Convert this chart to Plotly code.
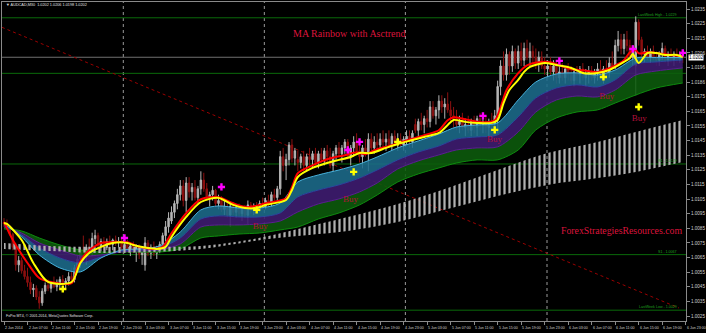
import plotly.graph_objects as go

# ---------------- data (prices, AUDCAD M30) ----------------
bar_idx = list(range(232))

open_ = [1.0089,1.0088,1.0086,1.0081,1.0072,1.0060,1.0063,1.0056,1.0052,1.0048,
 1.0043,1.0044,1.0038,1.0034,1.0042,1.0046,1.0044,1.0047,1.0045,1.0048,
 1.0050,1.0047,1.0049,1.0052,1.0050,1.0058,1.0064,1.0070,1.0066,1.0072,
 1.0068,1.0078,1.0080,1.0073,1.0076,1.0072,1.0076,1.0074,1.0077,1.0075,
 1.0076,1.0072,1.0074,1.0071,1.0073,1.0070,1.0072,1.0067,1.0060,1.0075,
 1.0068,1.0072,1.0068,1.0071,1.0074,1.0080,1.0086,1.0090,1.0096,1.0102,
 1.0108,1.0114,1.0104,1.0116,1.0110,1.0113,1.0106,1.0112,1.0118,1.0112,
 1.0106,1.0108,1.0111,1.0102,1.0104,1.0098,1.0100,1.0094,1.0100,1.0096,
 1.0099,1.0095,1.0098,1.0094,1.0101,1.0097,1.0100,1.0098,1.0102,1.0100,
 1.0104,1.0102,1.0108,1.0106,1.0112,1.0134,1.0128,1.0132,1.0142,1.0133,
 1.0132,1.0130,1.0134,1.0128,1.0134,1.0132,1.0136,1.0130,1.0136,1.0132,
 1.0138,1.0134,1.0128,1.0136,1.0140,1.0136,1.0140,1.0144,1.0134,1.0140,
 1.0144,1.0138,1.0134,1.0140,1.0136,1.0146,1.0140,1.0144,1.0142,1.0146,
 1.0144,1.0146,1.0142,1.0148,1.0144,1.0146,1.0142,1.0146,1.0148,1.0144,
 1.0156,1.0152,1.0158,1.0156,1.0160,1.0158,1.0168,1.0162,1.0166,1.0172,
 1.0168,1.0170,1.0166,1.0162,1.0160,1.0156,1.0158,1.0154,1.0156,1.0152,
 1.0158,1.0154,1.0160,1.0156,1.0158,1.0154,1.0158,1.0156,1.0162,1.0182,
 1.0196,1.0190,1.0204,1.0196,1.0206,1.0198,1.0206,1.0200,1.0208,1.0202,
 1.0206,1.0202,1.0198,1.0202,1.0196,1.0194,1.0196,1.0192,1.0196,1.0188,
 1.0192,1.0188,1.0194,1.0190,1.0186,1.0192,1.0190,1.0194,1.0188,1.0190,
 1.0192,1.0188,1.0192,1.0194,1.0190,1.0194,1.0192,1.0198,1.0196,1.0210,
 1.0214,1.0208,1.0214,1.0210,1.0202,1.0196,1.0226,1.0214,1.0204,1.0206,
 1.0202,1.0206,1.0202,1.0200,1.0204,1.0208,1.0200,1.0204,1.0200,1.0204,
 1.0200,1.0202]
high_ = [1.0092,1.0091,1.0087,1.0082,1.0075,1.0066,1.0065,1.0060,1.0058,1.0052,
 1.0047,1.0046,1.0042,1.0044,1.0048,1.0050,1.0049,1.0052,1.0050,1.0052,
 1.0053,1.0051,1.0055,1.0058,1.0060,1.0066,1.0072,1.0080,1.0074,1.0078,
 1.0082,1.0084,1.0082,1.0078,1.0079,1.0078,1.0080,1.0078,1.0080,1.0079,
 1.0078,1.0076,1.0077,1.0075,1.0076,1.0074,1.0074,1.0072,1.0079,1.0077,
 1.0074,1.0076,1.0073,1.0076,1.0082,1.0090,1.0096,1.0100,1.0104,1.0112,
 1.0118,1.0118,1.0120,1.0120,1.0116,1.0118,1.0114,1.0124,1.0123,1.0116,
 1.0110,1.0114,1.0112,1.0108,1.0107,1.0104,1.0104,1.0102,1.0103,1.0101,
 1.0102,1.0100,1.0101,1.0104,1.0103,1.0102,1.0103,1.0104,1.0106,1.0106,
 1.0108,1.0110,1.0112,1.0114,1.0138,1.0140,1.0136,1.0144,1.0146,1.0140,
 1.0138,1.0136,1.0138,1.0136,1.0140,1.0138,1.0140,1.0138,1.0140,1.0140,
 1.0142,1.0140,1.0138,1.0142,1.0144,1.0142,1.0146,1.0146,1.0142,1.0148,
 1.0150,1.0144,1.0142,1.0146,1.0150,1.0150,1.0148,1.0150,1.0150,1.0152,
 1.0150,1.0152,1.0150,1.0152,1.0150,1.0150,1.0148,1.0152,1.0152,1.0152,
 1.0160,1.0160,1.0164,1.0162,1.0166,1.0172,1.0172,1.0168,1.0176,1.0176,
 1.0174,1.0178,1.0172,1.0168,1.0166,1.0162,1.0164,1.0160,1.0162,1.0160,
 1.0162,1.0162,1.0164,1.0162,1.0162,1.0160,1.0164,1.0166,1.0186,1.0200,
 1.0206,1.0208,1.0206,1.0210,1.0208,1.0210,1.0212,1.0212,1.0214,1.0212,
 1.0210,1.0208,1.0206,1.0206,1.0202,1.0200,1.0202,1.0200,1.0200,1.0196,
 1.0198,1.0196,1.0198,1.0196,1.0194,1.0196,1.0196,1.0198,1.0194,1.0196,
 1.0196,1.0194,1.0198,1.0200,1.0196,1.0200,1.0202,1.0206,1.0214,1.0220,
 1.0218,1.0218,1.0220,1.0214,1.0210,1.0230,1.0228,1.0216,1.0208,1.0210,
 1.0208,1.0210,1.0206,1.0206,1.0212,1.0210,1.0206,1.0208,1.0206,1.0208,
 1.0206,1.0206]
low_ = [1.0086,1.0085,1.0080,1.0070,1.0056,1.0055,1.0054,1.0050,1.0045,1.0040,
 1.0038,1.0036,1.0030,1.0032,1.0040,1.0042,1.0041,1.0044,1.0042,1.0044,
 1.0046,1.0044,1.0046,1.0048,1.0048,1.0056,1.0058,1.0064,1.0060,1.0066,
 1.0066,1.0074,1.0070,1.0069,1.0070,1.0070,1.0072,1.0070,1.0073,1.0072,
 1.0070,1.0068,1.0069,1.0066,1.0068,1.0062,1.0064,1.0060,1.0056,1.0066,
 1.0064,1.0066,1.0064,1.0068,1.0070,1.0076,1.0082,1.0088,1.0092,1.0098,
 1.0104,1.0100,1.0096,1.0106,1.0104,1.0104,1.0102,1.0108,1.0110,1.0104,
 1.0100,1.0104,1.0100,1.0098,1.0096,1.0094,1.0092,1.0086,1.0094,1.0092,
 1.0093,1.0090,1.0092,1.0088,1.0095,1.0094,1.0096,1.0096,1.0098,1.0098,
 1.0100,1.0100,1.0104,1.0104,1.0108,1.0124,1.0118,1.0128,1.0130,1.0128,
 1.0124,1.0126,1.0124,1.0124,1.0128,1.0126,1.0128,1.0126,1.0130,1.0128,
 1.0130,1.0126,1.0124,1.0132,1.0134,1.0130,1.0136,1.0132,1.0128,1.0134,
 1.0136,1.0130,1.0126,1.0134,1.0124,1.0138,1.0136,1.0138,1.0138,1.0140,
 1.0138,1.0140,1.0138,1.0142,1.0138,1.0140,1.0138,1.0142,1.0140,1.0140,
 1.0150,1.0148,1.0152,1.0150,1.0154,1.0154,1.0160,1.0156,1.0160,1.0164,
 1.0160,1.0164,1.0158,1.0154,1.0152,1.0150,1.0152,1.0148,1.0150,1.0148,
 1.0150,1.0148,1.0152,1.0150,1.0150,1.0148,1.0152,1.0152,1.0150,1.0176,
 1.0186,1.0186,1.0190,1.0192,1.0194,1.0194,1.0196,1.0196,1.0200,1.0196,
 1.0198,1.0194,1.0192,1.0194,1.0190,1.0188,1.0190,1.0186,1.0184,1.0184,
 1.0186,1.0184,1.0186,1.0184,1.0182,1.0186,1.0184,1.0186,1.0182,1.0184,
 1.0186,1.0184,1.0186,1.0188,1.0184,1.0188,1.0188,1.0194,1.0194,1.0206,
 1.0204,1.0204,1.0206,1.0198,1.0196,1.0176,1.0210,1.0200,1.0198,1.0200,
 1.0198,1.0200,1.0196,1.0196,1.0200,1.0198,1.0196,1.0198,1.0196,1.0198,
 1.0198,1.0198]
close_ = [1.0088,1.0086,1.0081,1.0072,1.0060,1.0063,1.0056,1.0052,1.0048,1.0043,
 1.0044,1.0038,1.0034,1.0042,1.0046,1.0044,1.0047,1.0045,1.0048,1.0050,
 1.0047,1.0049,1.0052,1.0050,1.0058,1.0064,1.0070,1.0066,1.0072,1.0068,
 1.0078,1.0080,1.0073,1.0076,1.0072,1.0076,1.0074,1.0077,1.0075,1.0076,
 1.0072,1.0074,1.0071,1.0073,1.0070,1.0072,1.0067,1.0070,1.0075,1.0068,
 1.0072,1.0068,1.0071,1.0074,1.0080,1.0086,1.0092,1.0096,1.0102,1.0108,
 1.0114,1.0104,1.0116,1.0110,1.0113,1.0106,1.0112,1.0118,1.0112,1.0106,
 1.0108,1.0111,1.0102,1.0104,1.0098,1.0100,1.0094,1.0100,1.0096,1.0099,
 1.0095,1.0098,1.0094,1.0101,1.0097,1.0100,1.0098,1.0102,1.0100,1.0104,
 1.0102,1.0108,1.0106,1.0112,1.0134,1.0128,1.0132,1.0142,1.0133,1.0138,
 1.0130,1.0134,1.0128,1.0134,1.0132,1.0136,1.0130,1.0136,1.0132,1.0138,
 1.0134,1.0128,1.0136,1.0140,1.0136,1.0140,1.0144,1.0134,1.0140,1.0144,
 1.0138,1.0134,1.0140,1.0136,1.0146,1.0140,1.0144,1.0142,1.0146,1.0144,
 1.0146,1.0142,1.0148,1.0144,1.0146,1.0142,1.0146,1.0148,1.0144,1.0150,
 1.0152,1.0158,1.0156,1.0160,1.0158,1.0168,1.0162,1.0166,1.0172,1.0168,
 1.0170,1.0166,1.0162,1.0160,1.0156,1.0158,1.0154,1.0156,1.0152,1.0158,
 1.0154,1.0160,1.0156,1.0158,1.0154,1.0158,1.0156,1.0162,1.0182,1.0196,
 1.0190,1.0204,1.0196,1.0206,1.0198,1.0206,1.0200,1.0208,1.0202,1.0206,
 1.0202,1.0198,1.0202,1.0196,1.0194,1.0196,1.0192,1.0196,1.0188,1.0192,
 1.0188,1.0194,1.0190,1.0186,1.0192,1.0190,1.0194,1.0188,1.0190,1.0192,
 1.0188,1.0192,1.0194,1.0190,1.0194,1.0192,1.0198,1.0196,1.0210,1.0214,
 1.0208,1.0214,1.0210,1.0202,1.0206,1.0226,1.0214,1.0204,1.0206,1.0202,
 1.0206,1.0202,1.0200,1.0204,1.0208,1.0200,1.0204,1.0200,1.0204,1.0200,
 1.0204,1.0202]

# fast MAs (red, yellow) sampled along the chart
red_x = [0,3,8,12,16,23,25,28,33,37,42,46,51,54,57,62,67,73,78,83,89,96,98,100,105,111,116,120,123,126,
         132,134,143,148,151,153,157,162,167,169,171,175,178,182,186,189,193,197,202,206,211,213,215,216,219,225,231]
red_y = [1.00894,1.0077,1.00613,1.0051,1.00483,1.00474,1.00584,1.00681,1.0075,1.00755,1.00755,1.00723,1.00709,1.00723,
         1.00816,1.00953,1.01049,1.01063,1.01021,1.00994,1.01021,1.01056,1.01131,1.01227,1.01281,1.01329,1.0135,1.0137,
         1.01357,1.01384,1.01418,1.01432,1.01487,1.01521,1.01589,1.0161,1.01596,1.01576,1.01589,1.01678,1.01794,1.01911,
         1.01965,1.01986,1.01986,1.01965,1.01938,1.01931,1.01918,1.01945,1.0200,1.02054,1.02068,1.02047,1.02054,1.02041,1.02027]
yellow_x = [0,1,6,10,15,23,26,29,33,37,42,44,49,52,55,57,62,67,73,78,82,86,89,96,98,100,105,110,114,118,
            121,125,130,134,139,143,148,151,153,157,161,166,168,170,172,175,177,179,184,188,193,197,202,206,211,213,214,216,219,222,225,229,231]
yellow_y = [1.00887,1.0088,1.0077,1.00613,1.00483,1.00483,1.00613,1.00681,1.00723,1.0075,1.0075,1.00736,1.00716,1.00709,
            1.00723,1.00791,1.00928,1.0103,1.01058,1.0101,1.00989,1.00989,1.0101,1.01044,1.01112,1.01201,1.01263,1.01297,
            1.01318,1.01338,1.01365,1.01365,1.0140,1.01427,1.01454,1.01475,1.01502,1.01557,1.01591,1.01578,1.01571,1.01571,
            1.01591,1.01707,1.01796,1.01865,1.0192,1.01954,1.01981,1.01967,1.01947,1.01913,1.01913,1.01933,1.01988,1.02015,
            1.02043,1.01981,1.02049,1.02049,1.02036,1.02036,1.02022]

# rainbow band edges (fast edge -> slow edge)
rb_x = [0,6,12,19,26,33,40,46,53,60,67,73,80,87,94,100,107,114,121,127,134,141,148,154,161,168,175,181,188,195,202,208,215,222,231]
rb_fast = [1.0088,1.00791,1.00668,1.00579,1.00552,1.00647,1.00702,1.00709,1.00729,1.00825,1.00976,1.01003,1.00989,1.00989,
           1.01023,1.01167,1.01215,1.01249,1.0129,1.01338,1.0140,1.01448,1.01495,1.01543,1.01557,1.01571,1.01728,1.01851,
           1.01906,1.01913,1.01899,1.01933,1.02015,1.02018,1.02018]
rb_b1 = [1.00873,1.00805,1.00716,1.00647,1.00613,1.00654,1.00695,1.00702,1.00716,1.00784,1.00914,1.00935,1.00928,1.00928,
         1.00955,1.01065,1.01112,1.01147,1.01194,1.01249,1.01318,1.01372,1.01413,1.01461,1.01475,1.01489,1.01612,1.01742,
         1.0181,1.01831,1.01817,1.01865,1.01974,1.01988,1.02002]
rb_b2 = [1.00859,1.00818,1.0075,1.00702,1.00661,1.00668,1.00688,1.00695,1.00702,1.00743,1.00859,1.00873,1.00873,1.0088,
         1.0090,1.00962,1.01017,1.01051,1.01099,1.0116,1.01256,1.01311,1.01352,1.01386,1.0140,1.01407,1.01509,1.01646,
         1.01728,1.01755,1.01749,1.01796,1.01899,1.01926,1.01947]
rb_slow = [1.00846,1.00832,1.00784,1.00736,1.00702,1.00688,1.00688,1.00688,1.00688,1.00709,1.00784,1.00798,1.00811,1.00818,
           1.00839,1.00859,1.00914,1.00955,1.0101,1.01078,1.01167,1.01222,1.01263,1.01297,1.01318,1.01318,1.01386,1.01523,
           1.01605,1.01646,1.0166,1.01707,1.01762,1.0181,1.01844]

# grey trend ribbon
rib_x = [0,16,33,50,67,83,90,100,117,134,151,168,185,202,215,231]
rib_top = [1.0075,1.00729,1.00723,1.00723,1.00729,1.0077,1.00798,1.00846,1.00928,1.01017,1.01126,1.01249,1.01365,1.01441,1.01509,1.01591]
rib_bot = [1.00709,1.00695,1.00681,1.00688,1.00709,1.00757,1.00777,1.00798,1.00832,1.00893,1.00982,1.01071,1.01147,1.01194,1.01236,1.01304]

# Asctrend signals
sell_x = [41, 74, 117, 121, 163, 189, 214, 231]
sell_y = [1.00784, 1.01133, 1.01386, 1.01441, 1.01619, 1.01995, 1.02077, 1.0205]
buy_x = [20, 86, 119, 134, 167, 204, 216]
buy_y = [1.00435, 1.00976, 1.01236, 1.01441, 1.01523, 1.01885, 1.0168]
buytxt_x = [87.2, 117.9, 166.9, 205.1, 216.2]
buytxt_y = [1.00859, 1.01044, 1.01454, 1.01749, 1.01598]

# horizontal levels
level_vals = [1.0229, 1.0191, 1.0129, 1.0067, 1.0029]
level_text = ["LastWeek High - 1.0229", "", "R1 - 1.0129", "S1 - 1.0067", "LastWeek Low - 1.0029"]
bid_price = 1.0202
separators = [40.6, 88.6, 136.6, 184.8]
trend_x = [-0.7, 229.7]
trend_y = [1.02225, 1.00305]

ytick_vals = [1.0235,1.0225,1.0215,1.0205,1.0195,1.0185,1.0175,1.0165,1.0155,1.0145,1.0135,1.0125,
              1.0115,1.0105,1.0095,1.0085,1.0075,1.0065,1.0055,1.0045,1.0035,1.0025]
ytick_text = ["1.0235","1.0225","1.0215","1.0206","1.0196","1.0186","1.0175","1.0165","1.0155","1.0145","1.0135","1.0125",
              "1.0115","1.0105","1.0095","1.0085","1.0075","1.0065","1.0055","1.0045","1.0035","1.0025"]
xtick_vals = list(range(0, 233, 8))
xtick_text = ["2 Jun 2014","2 Jun 07:00","2 Jun 11:00","2 Jun 15:00","2 Jun 19:00","2 Jun 23:00",
              "3 Jun 03:00","3 Jun 07:00","3 Jun 11:00","3 Jun 15:00","3 Jun 19:00","3 Jun 23:00",
              "4 Jun 03:00","4 Jun 07:00","4 Jun 11:00","4 Jun 15:00","4 Jun 19:00","4 Jun 23:00",
              "5 Jun 03:00","5 Jun 07:00","5 Jun 11:00","5 Jun 15:00","5 Jun 19:00","5 Jun 23:00",
              "6 Jun 03:00","6 Jun 07:00","6 Jun 11:00","6 Jun 15:00","6 Jun 19:00","6 Jun 23:00"]

# ---------------- figure ----------------
fig = go.Figure()

def line(x, y, color, width=1, fill=None, fillcolor=None, shape="spline"):
    fig.add_trace(go.Scatter(x=x, y=y, mode="lines", line=dict(color=color, width=width, shape=shape, smoothing=0.8),
                             fill=fill, fillcolor=fillcolor, hoverinfo="skip"))

# rainbow
line(rb_x, rb_slow, "#0e8a0e", 1)
line(rb_x, rb_b2, "#5a2290", 1, "tonexty", "rgba(12,92,12,0.88)")
line(rb_x, rb_b1, "#2c46a0", 1, "tonexty", "rgba(62,28,112,0.9)")
line(rb_x, rb_fast, "#48b2dc", 1, "tonexty", "rgba(28,108,140,0.88)")

# grey ribbon (striped)
fig.add_trace(go.Scatter(x=rib_x, y=rib_bot, mode="lines", line=dict(width=0, shape="spline"), hoverinfo="skip"))
fig.add_trace(go.Scatter(x=rib_x, y=rib_top, mode="lines", line=dict(width=0, shape="spline"), fill="tonexty",
                         fillcolor="rgba(0,0,0,0)",
                         fillpattern=dict(shape="|", size=5, solidity=0.45, fgcolor="#b0b0b0",
                                          bgcolor="rgba(0,0,0,0)", fillmode="replace"),
                         hoverinfo="skip"))

# candles
fig.add_trace(go.Candlestick(x=bar_idx, open=open_, high=high_, low=low_, close=close_,
                             increasing=dict(line=dict(color="#b4b4b4", width=1), fillcolor="#b4b4b4"),
                             decreasing=dict(line=dict(color="#8c1010", width=1), fillcolor="#8c1010"),
                             whiskerwidth=0, hoverinfo="skip"))

# fast MAs
line(red_x, red_y, "#ff0000", 2)
line(yellow_x, yellow_y, "#ffff00", 2)

# signals
fig.add_trace(go.Scatter(x=sell_x, y=sell_y, mode="markers",
                         marker=dict(symbol="cross", size=6, color="#ff00ff"), hoverinfo="skip"))
fig.add_trace(go.Scatter(x=buy_x, y=buy_y, mode="markers",
                         marker=dict(symbol="cross", size=6, color="#ffff00"), hoverinfo="skip"))
fig.add_trace(go.Scatter(x=buytxt_x, y=buytxt_y, mode="text", text=["Buy"] * len(buytxt_x),
                         textfont=dict(family="Liberation Serif", size=9, color="#b3103a"), hoverinfo="skip"))

shapes = []
for s in separators:
    shapes.append(dict(type="line", xref="x", yref="paper", x0=s, x1=s, y0=0, y1=1,
                       line=dict(color="#9a9a9a", width=1, dash="dot"), layer="below"))
for v in level_vals:
    shapes.append(dict(type="line", xref="paper", yref="y", x0=0, x1=1, y0=v, y1=v,
                       line=dict(color="#0a6a0a", width=1), layer="below"))
shapes.append(dict(type="line", xref="paper", yref="y", x0=0, x1=1, y0=bid_price, y1=bid_price,
                   line=dict(color="#707070", width=1), layer="below"))
shapes.append(dict(type="line", xref="x", yref="y", x0=trend_x[0], x1=trend_x[1], y0=trend_y[0], y1=trend_y[1],
                   line=dict(color="#9a0000", width=1, dash="dot"), layer="below"))

ann = []
for v, t in zip(level_vals, level_text):
    if t:
        ann.append(dict(x=229.8, y=v, xref="x", yref="y", text=t, showarrow=False, xanchor="right",
                        yanchor="bottom", yshift=-1, font=dict(family="Liberation Sans", size=3.6, color="#1fa01f")))
for xv, t in zip(xtick_vals, xtick_text):
    ann.append(dict(x=xv, y=0, xref="x", yref="paper", text=t, showarrow=False, xanchor="left", xshift=-1,
                    yanchor="middle", yshift=-7, font=dict(family="Liberation Sans", size=3.6, color="#d0d0d0")))
ann.append(dict(x=1, y=bid_price, xref="paper", yref="y", text="1.0202", showarrow=False, xanchor="left",
                xshift=2, bgcolor="#ffffff", borderpad=0, font=dict(family="Liberation Sans", size=4.6, color="#000000")))
ann.append(dict(x=0.003, y=0.992, xref="paper", yref="paper", text="▼ AUDCAD,M30  1.0202 1.0206 1.0198 1.0202",
                showarrow=False, xanchor="left", yanchor="middle", font=dict(family="Liberation Sans", size=3.8, color="#e0e0e0")))
ann.append(dict(x=0.003, y=0.016, xref="paper", yref="paper", text="FxPro MT4, © 2001-2014, MetaQuotes Software Corp.",
                showarrow=False, xanchor="left", yanchor="middle", font=dict(family="Liberation Sans", size=3.6, color="#e0e0e0")))
ann.append(dict(x=0.508, y=0.925, xref="paper", yref="paper", text="MA Rainbow with Asctrend", showarrow=False,
                font=dict(family="Liberation Serif", size=10, color="#dc143c")))
ann.append(dict(x=0.997, y=0.260, xref="paper", yref="paper", text="ForexStrategiesResources.com", showarrow=False,
                xanchor="right", font=dict(family="Liberation Serif", size=9.8, color="#dc143c")))

fig.update_layout(
    width=706, height=333, margin=dict(l=1, r=16, t=2, b=12),
    paper_bgcolor="#000000", plot_bgcolor="#000000", showlegend=False,
    shapes=shapes, annotations=ann,
    xaxis=dict(range=[-0.68, 232.1], showgrid=False, zeroline=False, showline=True, mirror=True,
               linecolor="#8a8a8a", linewidth=1, ticks="outside", tickvals=xtick_vals, ticklen=3,
               tickcolor="#8a8a8a", showticklabels=False, rangeslider=dict(visible=False)),
    yaxis=dict(range=[1.00216, 1.02398], side="right", showgrid=False, zeroline=False, showline=True, mirror=True,
               linecolor="#8a8a8a", linewidth=1, ticks="outside", ticklen=3, tickcolor="#8a8a8a",
               tickvals=ytick_vals, ticktext=ytick_text,
               tickfont=dict(family="Liberation Sans", size=4.6, color="#d0d0d0")),
)

fig.write_html("out.html")
